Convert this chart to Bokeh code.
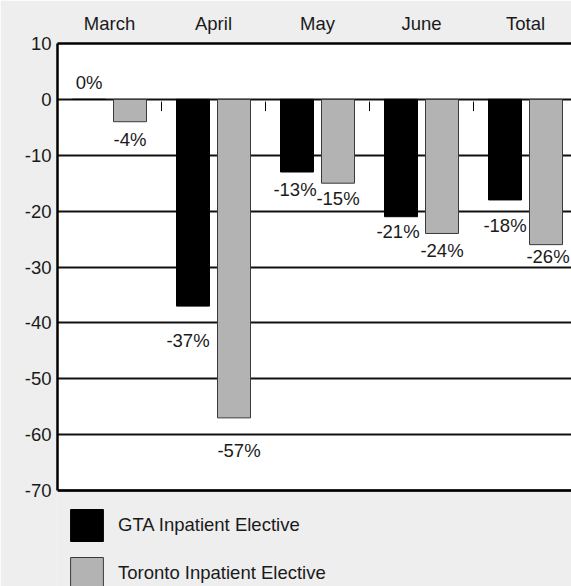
from bokeh.plotting import figure
from bokeh.models import (ColumnDataSource, FixedTicker, Legend, LegendItem, Span,
                          Range1d, BoxAnnotation)
from bokeh.core.properties import value
from bokeh.embed import file_html
from bokeh.resources import INLINE

# ---- data ----
categories = ["March", "April", "May", "June", "Total"]
gta_values = [0, -37, -13, -21, -18]
toronto_values = [-4, -57, -15, -24, -26]
y_ticks = [10, 0, -10, -20, -30, -40, -50, -60, -70]
series_names = ["GTA Inpatient Elective", "Toronto Inpatient Elective"]

# ---- label placement styling (screen px offsets) ----
gta_label_dx = [0, -5, -2, -3, 0]
gta_label_dy = [-17, 34, 17, 15, 26]
tor_label_dx = [0, 5, 0, 0, 2]
tor_label_dy = [18, 33, 15, 17, 12]

FONT = "Liberation Sans"
TXT = "#1a1a1a"
FS = "18.5px"

# ---- layout (px) ----
W, H = 571, 586
LEFT, TOP = 57, 43
PLOT_H = 447          # height of the white value area
CAT_W = 104           # px per category
y_top, y_bot = max(y_ticks), min(y_ticks)
px_per_unit = PLOT_H / (y_top - y_bot)
frame_h = H - TOP
frame_w = W - LEFT

n = len(categories)
centers = [i + 0.5 for i in range(n)]
pair_off = 20.5 / CAT_W
bar_w = 33 / CAT_W

p = figure(output_backend="svg", toolbar_location=None, width=W, height=H,
           x_range=Range1d(0, frame_w / CAT_W),
           y_range=Range1d(y_top - frame_h / px_per_unit, y_top),
           x_axis_location="above", tools="")
p.min_border_left = LEFT
p.min_border_right = 0
p.min_border_top = TOP
p.min_border_bottom = 0
p.border_fill_color = "#eeeeee"
p.background_fill_color = "#eeeeee"
p.outline_line_color = None

p.add_layout(BoxAnnotation(bottom=y_bot, top=y_top, fill_color="white", fill_alpha=1,
                           line_color=None, level="image"))

gta_src = ColumnDataSource(dict(
    x=[c - pair_off for c in centers], top=gta_values,
    label=[f"{v}%" for v in gta_values], dx=gta_label_dx, dy=gta_label_dy))
tor_src = ColumnDataSource(dict(
    x=[c + pair_off for c in centers], top=toronto_values,
    label=[f"{v}%" for v in toronto_values], dx=tor_label_dx, dy=tor_label_dy))

r_gta = p.vbar(x="x", top="top", bottom=0, width=bar_w, source=gta_src,
               fill_color="black", line_color="black", line_width=1)
r_tor = p.vbar(x="x", top="top", bottom=0, width=bar_w, source=tor_src,
               fill_color="#b3b3b3", line_color="#3a3a3a", line_width=1)

for src in (gta_src, tor_src):
    p.text(x="x", y="top", text="label", x_offset="dx", y_offset="dy", source=src,
           text_align="center", text_baseline="middle",
           text_font=value(FONT), text_font_size=FS, text_color=TXT)

# category boundary ticks on the zero line
bounds = list(range(1, n + 1))
p.segment(x0=bounds, x1=bounds, y0=[-0.4] * n, y1=[-2.1] * n,
          line_color="black", line_width=1)

# axes
xa = p.xaxis[0]
xa.ticker = FixedTicker(ticks=centers)
xa.major_label_overrides = {c: lab for c, lab in zip(centers, categories)}
xa.major_tick_out = 0
xa.major_tick_in = 0
xa.minor_tick_out = 0
xa.minor_tick_in = 0
xa.axis_line_color = "black"
xa.axis_line_width = 2.5
xa.major_label_standoff = 10
xa.major_label_text_font = FONT
xa.major_label_text_font_size = FS
xa.major_label_text_color = TXT

ya = p.yaxis[0]
ya.ticker = FixedTicker(ticks=y_ticks)
ya.bounds = (y_bot, y_top)
ya.major_label_overrides = {t: str(t) for t in y_ticks}
ya.major_tick_out = 0
ya.major_tick_in = 0
ya.minor_tick_out = 0
ya.minor_tick_in = 0
ya.axis_line_color = "black"
ya.axis_line_width = 2.5
ya.major_label_standoff = 6
ya.major_label_text_font = FONT
ya.major_label_text_font_size = FS
ya.major_label_text_color = TXT

p.xgrid.visible = False
p.ygrid.ticker = FixedTicker(ticks=y_ticks)
p.ygrid.grid_line_color = "#111111"
p.ygrid.grid_line_width = 2

p.add_layout(Span(location=y_bot, dimension="width",
                  line_color="black", line_width=2.5))

# legend glyph boxes are inset 10% by Bokeh, so size boxes to draw ~33x32 squares
gw, gh, gap = 41, 40, 8
legend_h = gh + gap + gh
legend = Legend(items=[LegendItem(label=series_names[0], renderers=[r_gta]),
                       LegendItem(label=series_names[1], renderers=[r_tor])],
                location=(9, (H - TOP - PLOT_H) - 15 - legend_h),
                orientation="vertical",
                glyph_width=gw, glyph_height=gh, spacing=gap, label_standoff=11,
                label_height=gh, padding=0, margin=0,
                label_text_font=FONT, label_text_font_size=FS, label_text_color=TXT,
                border_line_color=None, background_fill_alpha=0)
p.add_layout(legend, "center")

open("out.html", "w").write(file_html(p, INLINE))
